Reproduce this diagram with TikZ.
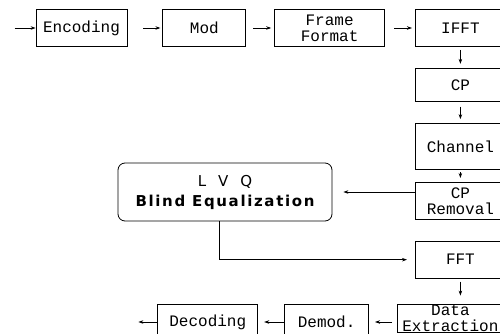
\documentclass[tikz,border=0pt]{standalone}
\usepackage{fontspec}
\setmonofont{Liberation Mono}
\newfontfamily\lvqfont[LetterSpace=11]{DejaVu Sans}
\usetikzlibrary{arrows.meta, positioning}
\tikzset{
	blk/.style={rectangle, draw=black, line width=0.8pt, inner sep=2pt, align=center,
		minimum height=37pt, font=\ttfamily\fontsize{16}{16}\selectfont},
	lvqblk/.style={rectangle, rounded corners=7pt, draw=black, line width=0.8pt, align=center,
		minimum width=214pt, minimum height=58pt, font=\lvqfont\fontsize{15}{20}\selectfont},
	arrow/.style={-{Stealth[length=5pt,width=3.5pt]}, line width=0.7pt},
}
\begin{document}
\begin{tikzpicture}[x=1pt, y=-1pt]
	\useasboundingbox (0,0) rectangle (500,334);
	% transmitter
	\node[blk, minimum width=91pt] (enc) at (81.5,28) {Encoding};
	\node[blk, minimum width=83pt, right=35pt of enc] (mod) {Mod};
	\node[blk, minimum width=110pt, right=28pt of mod] (frame) {Frame\\Format};
	\node[blk, minimum width=90pt, right=30pt of frame] (ifft) {IFFT};
	\coordinate[left=21pt of enc] (in);
	\draw[arrow] (in) -- (enc);
	\draw[arrow, shorten <=16pt, shorten >=2pt] (enc) -- (mod);
	\draw[arrow, shorten <=7pt, shorten >=3pt] (mod) -- (frame);
	\draw[arrow, shorten <=9pt, shorten >=3pt] (frame) -- (ifft);
	% channel
	\node[blk, minimum width=90pt, minimum height=33pt, below=21pt of ifft] (cp) {CP};
	\node[blk, minimum width=90pt, minimum height=46pt, below=21.5pt of cp] (chan) {Channel};
	\node[blk, minimum width=90pt, below=12pt of chan] (cprem) {CP\\Removal};
	\node[blk, minimum width=90pt, below=21pt of cprem] (fft) {FFT};
	\draw[arrow, shorten <=3pt, shorten >=4pt] (ifft) -- (cp);
	\draw[arrow, shorten <=5pt, shorten >=4pt] (cp) -- (chan);
	\draw[arrow, shorten <=2pt, shorten >=4pt] (chan) -- (cprem);
	% equalizer
	\node[lvqblk] (lvq) at (225,192) {L\hspace{12pt}V\hspace{12pt}Q\\\bfseries Blind Equalization};
	\draw[arrow, shorten >=11pt] (cprem.west |- lvq.east) -- (lvq.east);
	\draw[arrow, shorten >=8pt] ([xshift=-6pt]lvq.south) |- (fft.west);
	% receiver
	\node[blk, minimum width=106pt, minimum height=0pt, inner ysep=1pt, below=25pt of fft, xshift=-10pt] (data) {Data\\Extraction};
	\node[blk, minimum width=84pt, minimum height=36pt, left=28pt of data.north west, anchor=north east] (demod) {Demod.};
	\node[blk, minimum width=100pt, minimum height=36pt, left=26pt of demod] (dec) {Decoding};
	\coordinate[left=19pt of dec] (out);
	\draw[arrow, shorten <=3pt, shorten >=8pt] (fft.south) -- (fft.south |- data.north);
	\draw[arrow, shorten <=5pt, shorten >=6pt] (data.west |- demod.east) -- (demod.east);
	\draw[arrow, shorten >=6pt] (demod) -- (dec);
	\draw[arrow] (dec) -- (out);
\end{tikzpicture}
\end{document}
